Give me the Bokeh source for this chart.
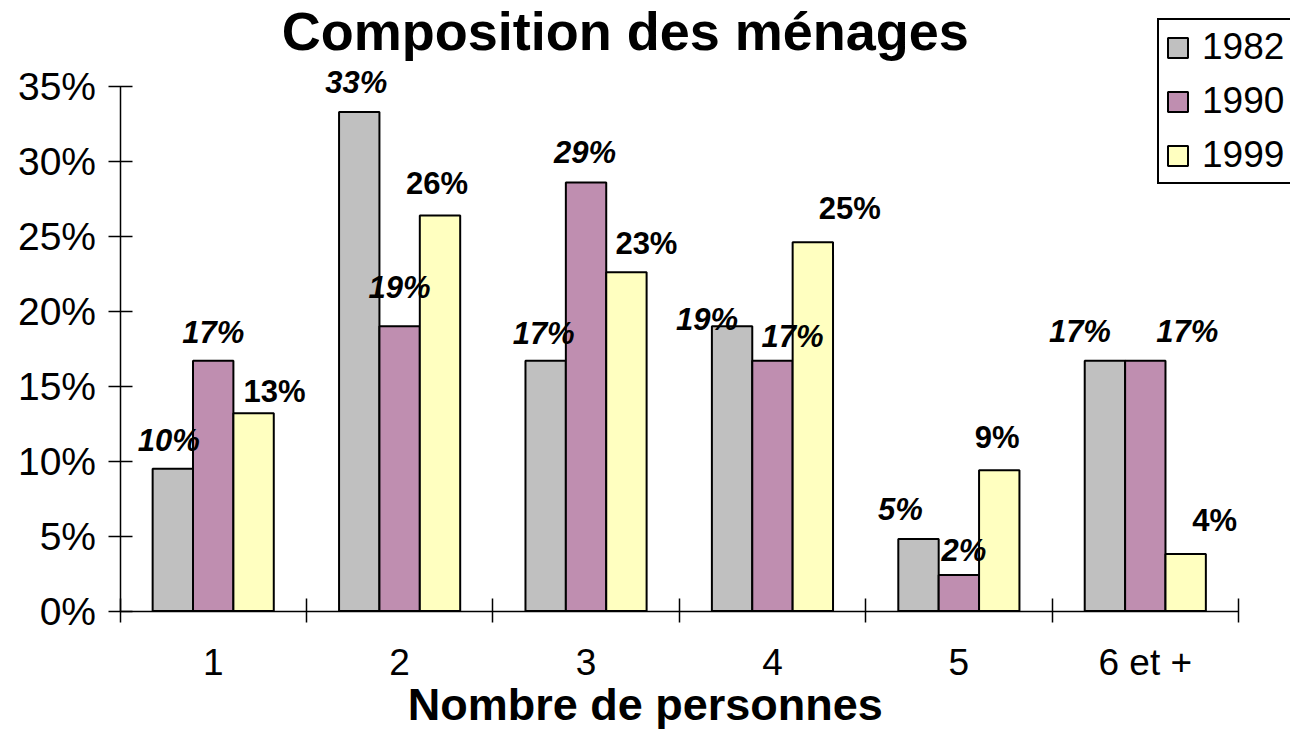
from bokeh.plotting import figure
from bokeh.models import (Range1d, FixedTicker, NumeralTickFormatter, ColumnDataSource,
                          LabelSet, Label, Legend, LegendItem)
from bokeh.core.properties import value
from bokeh.transform import dodge
from bokeh.embed import file_html
from bokeh.resources import INLINE

# ---------------- data ----------------
categories = ["1", "2", "3", "4", "5", "6 et +"]
years = ["1982", "1990", "1999"]
share_1982 = [0.095, 0.333, 0.167, 0.190, 0.048, 0.167]
share_1990 = [0.167, 0.190, 0.286, 0.167, 0.024, 0.167]
share_1999 = [0.132, 0.264, 0.226, 0.246, 0.094, 0.038]
y_ticks = [0.0, 0.05, 0.10, 0.15, 0.20, 0.25, 0.30, 0.35]
Y_TOP = 0.35

# ---------------- style / layout ----------------
FONT = "Liberation Sans"
colors = ["#C0C0C0", "#BF8EB0", "#FFFFC0"]
label_styles = ["bold italic", "bold italic", "bold"]
# manual nudges of the value labels (pixels), as placed in the original chart
nudge_x = [[-4, -3, -2, -25, -18, -25],
           [0, 0, -1, 20, 5, 42],
           [21, -3, 20, 37, -2, 29]]
nudge_y = [[18, 19, 17, -4, 19, 19],
           [18, 28, 19, 14, 14, 19],
           [11, 21, 18, 23, 22, 23]]
BAR_W = 0.2166

W, H = 1290, 733
# pixel placement of the plotting area inside the canvas
AX_LEFT, AX_RIGHT = 119.5, 1238.0   # x of first and last category boundary
AX_BOTTOM, AX_TOP = 610.5, 86.0     # y of 0 % and of 35 %

n = len(categories)
px_x = (AX_RIGHT - AX_LEFT) / n
px_y = (AX_BOTTOM - AX_TOP) / Y_TOP
x_range = Range1d(-AX_LEFT / px_x, n + (W - AX_RIGHT) / px_x)
y_range = Range1d(-(H - AX_BOTTOM) / px_y, Y_TOP + AX_TOP / px_y)

p = figure(width=W, height=H, output_backend="svg", toolbar_location=None,
           x_range=x_range, y_range=y_range,
           min_border=0, min_border_left=0, min_border_right=0,
           min_border_top=0, min_border_bottom=0)
p.outline_line_color = None
p.xgrid.visible = False
p.ygrid.visible = False
p.background_fill_color = "white"
p.border_fill_color = "white"

centers = [i + 0.5 for i in range(n)]
series = [share_1982, share_1990, share_1999]
offsets = [-BAR_W, 0.0, BAR_W]

items = []
for k, (vals, yr) in enumerate(zip(series, years)):
    src = ColumnDataSource(dict(
        x=centers, top=vals,
        txt=[f"{int(v * 100 + 0.5)}%" for v in vals],
        dx=nudge_x[k], dy=nudge_y[k]))
    r = p.vbar(x=dodge("x", offsets[k], range=p.x_range), top="top", width=BAR_W,
               source=src, fill_color=colors[k], line_color="black", line_width=2)
    items.append(LegendItem(label=yr, renderers=[r]))
    ls = LabelSet(x=dodge("x", offsets[k], range=p.x_range), y="top", text="txt",
                  x_offset="dx", y_offset="dy", source=src,
                  text_align="center", text_baseline="alphabetic",
                  text_font=value(FONT), text_font_size=value("31px"),
                  text_font_style=value(label_styles[k]), text_color="black")
    p.add_layout(ls)

# ---------------- axes ----------------
xa = p.xaxis[0]
xa.fixed_location = 0
xa.bounds = (0, n)
xa.ticker = FixedTicker(ticks=centers, minor_ticks=list(range(n + 1)))
xa.major_label_overrides = {c: lab for c, lab in zip(centers, categories)}
xa.major_tick_in = 0
xa.major_tick_out = 0
xa.minor_tick_in = 13
xa.minor_tick_out = 11
xa.minor_tick_line_color = "black"
xa.minor_tick_line_width = 1.5
xa.axis_line_color = "black"
xa.axis_line_width = 1.5
xa.major_label_text_font = FONT
xa.major_label_text_font_size = "37px"
xa.major_label_text_color = "black"
xa.major_label_standoff = 20

ya = p.yaxis[0]
ya.fixed_location = 0
ya.bounds = (0, Y_TOP)
ya.ticker = FixedTicker(ticks=y_ticks, minor_ticks=[])
ya.formatter = NumeralTickFormatter(format="0%")
ya.major_tick_in = 12
ya.major_tick_out = 12
ya.major_tick_line_color = "black"
ya.major_tick_line_width = 1.5
ya.axis_line_color = "black"
ya.axis_line_width = 1.5
ya.major_label_text_font = FONT
ya.major_label_text_font_size = "39px"
ya.major_label_text_color = "black"
ya.major_label_standoff = 12

# ---------------- titles ----------------
title = Label(x=n / 2, y=Y_TOP, x_offset=-54, y_offset=56,
              text="Composition des ménages", text_align="center",
              text_baseline="alphabetic", text_font=FONT, text_font_size="54px",
              text_font_style="bold", text_color="black")
p.add_layout(title)

xtitle = Label(x=n / 2, y=0, x_offset=-34, y_offset=-93,
               text="Nombre de personnes", text_align="center",
               text_baseline="alphabetic", text_font=FONT, text_font_size="45px",
               text_font_style="bold", text_color="black")
p.add_layout(xtitle)

# ---------------- legend ----------------
legend = Legend(items=items, location=(1157, H - 184), orientation="vertical",
                glyph_width=25, glyph_height=25, label_standoff=12,
                label_text_font=FONT, label_text_font_size="37px",
                label_text_color="black", padding=6, spacing=12, margin=0,
                border_line_color="black", border_line_width=2,
                border_line_alpha=1.0,
                background_fill_color="white", background_fill_alpha=1)
p.add_layout(legend)

open("out.html", "w").write(file_html(p, INLINE))
